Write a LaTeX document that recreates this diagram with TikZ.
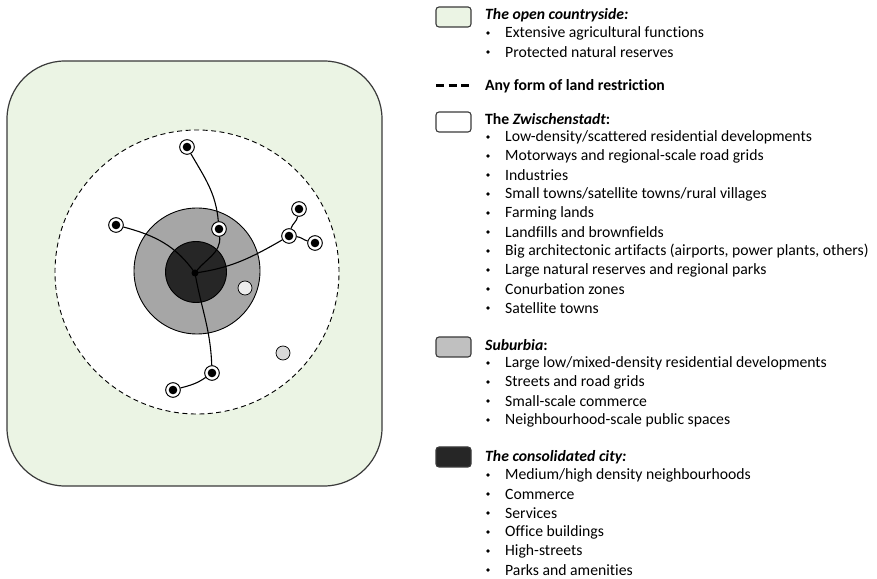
\documentclass[tikz,border=0pt]{standalone}
\usepackage{fontspec}
\setmainfont{Carlito}[Ligatures=NoCommon]
\definecolor{countryside}{HTML}{EBF4E4}
\definecolor{suburb}{HTML}{A6A6A6}
\definecolor{suburblegend}{HTML}{C0C0C0}
\definecolor{core}{HTML}{262626}
\definecolor{outline}{HTML}{3A3A3A}
\begin{document}
\begin{tikzpicture}[x=1pt,y=1pt,
  settle/.style={circle,draw=black,fill=white,line width=0.8,minimum size=14.5,inner sep=0,
    path picture={\fill[black] (path picture bounding box.center) circle (4.3);}},
  road/.style={line width=1.1,black},
  legbox/.style={draw=outline,line width=1.1,rounded corners=3,minimum width=35,minimum height=20,inner sep=0},
  legtitle/.style={anchor=west,inner sep=0,font=\fontsize{15.7}{18}\selectfont\bfseries},
  legitem/.style={anchor=west,inner sep=0,font=\fontsize{15.7}{18}\selectfont},
  bul/.style={circle,fill=black,inner sep=0,minimum size=3.8}
]
\useasboundingbox (0,0) rectangle (877,578);
% countryside
\draw[outline,line width=1.2,fill=countryside,rounded corners=58] (7,92) rectangle (382,517);
% land restriction
\draw[black,line width=0.9,dashed,dash pattern=on 5pt off 3.5pt,fill=white] (197,306) circle (142);
% suburbia
\draw[black,line width=0.9,fill=suburb] (197,307) circle (63);
% consolidated
\draw[black,line width=0.9,fill=core] (196,306) circle (30.5);
% light circles
\node[circle,draw=black,line width=0.7,fill=black!7,minimum size=14,inner sep=0] (g1) at (245,290) {};
\node[circle,draw=black,line width=0.7,fill=black!15,minimum size=14,inner sep=0] (g2) at (283,225) {};
% settlements
\coordinate (C) at (195,305);
\node[settle] (T) at (187,431) {};
\node[settle] (M) at (219,349) {};
\node[settle] (L) at (116,353) {};
\node[settle] (H) at (289,342) {};
\node[settle] (H1) at (299,369) {};
\node[settle] (H2) at (315,335) {};
\node[settle] (B) at (212,205) {};
\node[settle] (BL) at (173,188) {};
% roads
\draw[road] (C) to[out=55,in=-85] (M);
\draw[road] (M) to[out=95,in=-60] (T);
\draw[road] (C) to[out=125,in=-15] (L);
\draw[road] (C) to[out=8,in=-150] (H);
\draw[road] (H) to[out=75,in=-100] (H1);
\draw[road] (H) to[out=-5,in=165] (H2);
\draw[road] (C) to[out=-80,in=92] (B);
\draw[road] (B) to[out=-145,in=15] (BL);
\fill[black] (C) circle (3.5);
% redraw settlement nodes on top
\foreach \n in {T,M,L,H,H1,H2,B,BL}{\node[settle] at (\n) {};}

% legend
\node[legbox,fill=countryside] (k1) at (453.5,561) {};
\node[legtitle] (t1) at (485,563) {\itshape The open countryside:};
\node[bul] (b11) at (488,545) {};
\node[legitem] (i11) at (505,545) {Extensive agricultural functions};
\node[bul] (b12) at (488,526) {};
\node[legitem] (i12) at (505,526) {Protected natural reserves};

\coordinate (d1) at (436,492);
\coordinate (d2) at (471,492);
\draw[black,line width=3,dash pattern=on 8pt off 4.5pt] (d1) -- (d2);
\node[legtitle] (t2) at (485,492) {Any form of land restriction};

\node[legbox,fill=white] (k2) at (453.5,456) {};
\node[legtitle] (t3) at (485,459) {The \textit{Zwischenstadt}:};
\foreach \i/\txt in {0/{Low-density/scattered residential developments},
  1/{Motorways and regional-scale road grids},
  2/{Industries},
  3/{Small towns/satellite towns/rural villages},
  4/{Farming lands},
  5/{Landfills and brownfields},
  6/{Big architectonic artifacts (airports, power plants, others)},
  7/{Large natural reserves and regional parks},
  8/{Conurbation zones},
  9/{Satellite towns}}{
  \node[bul] (zb\i) at (488,441-19*\i) {};
  \node[legitem] (zi\i) at (505,441-19*\i) {\txt};
}

\node[legbox,fill=suburblegend] (k3) at (453.5,231) {};
\node[legtitle] (t4) at (485,233) {\textit{Suburbia}:};
\foreach \i/\txt in {0/{Large low/mixed-density residential developments},
  1/{Streets and road grids},
  2/{Small-scale commerce},
  3/{Neighbourhood-scale public spaces}}{
  \node[bul] (sb\i) at (488,215-19*\i) {};
  \node[legitem] (si\i) at (505,215-19*\i) {\txt};
}

\node[legbox,fill=core] (k4) at (453.5,121) {};
\node[legtitle] (t5) at (485,121) {\itshape The consolidated city:};
\foreach \i/\txt in {0/{Medium/high density neighbourhoods},
  1/{Commerce},
  2/{Services},
  3/{Office buildings},
  4/{High-streets},
  5/{Parks and amenities}}{
  \node[bul] (cb\i) at (488,103-19*\i) {};
  \node[legitem] (ci\i) at (505,103-19*\i) {\txt};
}
\end{tikzpicture}
\end{document}
